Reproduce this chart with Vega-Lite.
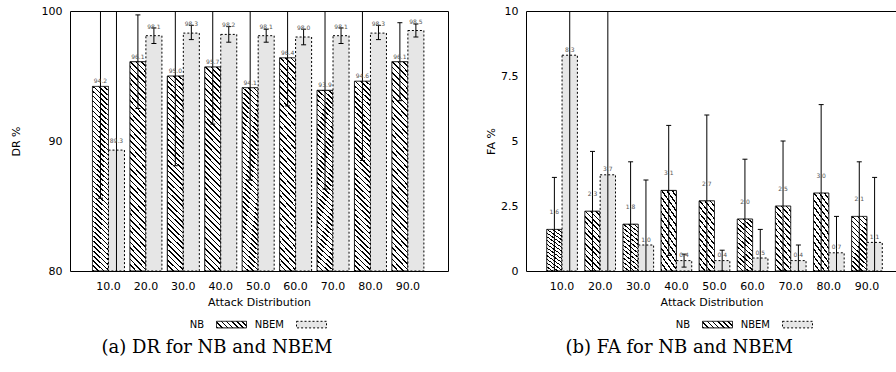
{
"$schema": "https://vega.github.io/schema/vega-lite/v6.json",
"background": "white",
"padding": {"left": 9, "top": 4, "right": 0, "bottom": 0},
"spacing": 36,
"datasets": {
 "dr": [
  {"d":"10.0","s":"NB","v":94.2,"lo":85.6,"hi":102.8},
  {"d":"10.0","s":"NBEM","v":89.3,"lo":77.0,"hi":102.0},
  {"d":"20.0","s":"NB","v":96.1,"lo":92.5,"hi":99.7},
  {"d":"20.0","s":"NBEM","v":98.1,"lo":97.5,"hi":98.7},
  {"d":"30.0","s":"NB","v":95.0,"lo":88.1,"hi":101.9},
  {"d":"30.0","s":"NBEM","v":98.3,"lo":97.8,"hi":98.9},
  {"d":"40.0","s":"NB","v":95.7,"lo":91.3,"hi":100.1},
  {"d":"40.0","s":"NBEM","v":98.2,"lo":97.6,"hi":98.8},
  {"d":"50.0","s":"NB","v":94.1,"lo":87.0,"hi":101.2},
  {"d":"50.0","s":"NBEM","v":98.1,"lo":97.6,"hi":98.6},
  {"d":"60.0","s":"NB","v":96.4,"lo":92.7,"hi":100.1},
  {"d":"60.0","s":"NBEM","v":98.0,"lo":97.4,"hi":98.6},
  {"d":"70.0","s":"NB","v":93.9,"lo":86.3,"hi":101.5},
  {"d":"70.0","s":"NBEM","v":98.1,"lo":97.5,"hi":98.7},
  {"d":"80.0","s":"NB","v":94.6,"lo":88.5,"hi":100.7},
  {"d":"80.0","s":"NBEM","v":98.3,"lo":97.8,"hi":98.9},
  {"d":"90.0","s":"NB","v":96.1,"lo":93.1,"hi":99.1},
  {"d":"90.0","s":"NBEM","v":98.5,"lo":98.0,"hi":99.0}
 ],
 "fa": [
  {"d":"10.0","s":"NB","v":1.6,"lo":-0.4,"hi":3.6},
  {"d":"10.0","s":"NBEM","v":8.3,"lo":-0.5,"hi":17.1},
  {"d":"20.0","s":"NB","v":2.3,"lo":0.0,"hi":4.6},
  {"d":"20.0","s":"NBEM","v":3.7,"lo":-3.3,"hi":10.7},
  {"d":"30.0","s":"NB","v":1.8,"lo":-0.6,"hi":4.2},
  {"d":"30.0","s":"NBEM","v":1.0,"lo":-1.5,"hi":3.5},
  {"d":"40.0","s":"NB","v":3.1,"lo":0.6,"hi":5.6},
  {"d":"40.0","s":"NBEM","v":0.4,"lo":0.15,"hi":0.65},
  {"d":"50.0","s":"NB","v":2.7,"lo":-0.6,"hi":6.0},
  {"d":"50.0","s":"NBEM","v":0.4,"lo":0.0,"hi":0.8},
  {"d":"60.0","s":"NB","v":2.0,"lo":-0.3,"hi":4.3},
  {"d":"60.0","s":"NBEM","v":0.5,"lo":-0.6,"hi":1.6},
  {"d":"70.0","s":"NB","v":2.5,"lo":0.0,"hi":5.0},
  {"d":"70.0","s":"NBEM","v":0.4,"lo":-0.2,"hi":1.0},
  {"d":"80.0","s":"NB","v":3.0,"lo":-0.4,"hi":6.4},
  {"d":"80.0","s":"NBEM","v":0.7,"lo":-0.7,"hi":2.1},
  {"d":"90.0","s":"NB","v":2.1,"lo":0.0,"hi":4.2},
  {"d":"90.0","s":"NBEM","v":1.1,"lo":-1.4,"hi":3.6}
 ]
},
"hconcat": [
 {
  "width": 378, "height": 260,
  "data": {"name": "dr"},
  "title": {"text": "(a) DR for NB and NBEM", "orient": "bottom", "anchor": "middle", "frame": "bounds", "font": "DejaVu Serif", "fontSize": 18, "fontWeight": "normal", "color": "black", "offset": 9, "dx": -12},
  "encoding": {
   "x": {"field": "d", "type": "nominal", "scale": {"domain": ["10.0","20.0","30.0","40.0","50.0","60.0","70.0","80.0","90.0"], "paddingInner": 0, "paddingOuter": 0.55, "align": 0.48}, "axis": {"title": "Attack Distribution", "labelAngle": 0, "labelPadding": 9, "titlePadding": 5}},
   "xOffset": {"field": "s", "type": "nominal", "scale": {"domain": ["NB","NBEM"], "paddingInner": 0, "paddingOuter": 0.169}}
  },
  "layer": [
   {"mark": {"type": "bar", "clip": true, "stroke": "black", "strokeWidth": 1},
    "encoding": {
     "y": {"field": "v", "type": "quantitative", "title": "DR %", "scale": {"domain": [80,100], "nice": false, "zero": false}, "axis": {"values": [80,90,100], "format": "d", "labelPadding": 8, "titlePadding": 20}},
     "y2": {"datum": 80},
     "fill": {"condition": {"test": "datum.s === 'NB'", "value":
       {"gradient": "linear", "x1": 0, "y1": 1, "x2": 0.0859, "y2": -0.0732, "stops": [
        {"offset":0,"color":"#000"},{"offset":0.0075,"color":"#000"},{"offset":0.0075,"color":"#fff"},{"offset":0.025,"color":"#fff"},
        {"offset":0.025,"color":"#000"},{"offset":0.0325,"color":"#000"},{"offset":0.0325,"color":"#fff"},{"offset":0.05,"color":"#fff"},
        {"offset":0.05,"color":"#000"},{"offset":0.0575,"color":"#000"},{"offset":0.0575,"color":"#fff"},{"offset":0.075,"color":"#fff"},
        {"offset":0.075,"color":"#000"},{"offset":0.0825,"color":"#000"},{"offset":0.0825,"color":"#fff"},{"offset":0.1,"color":"#fff"},
        {"offset":0.1,"color":"#000"},{"offset":0.1075,"color":"#000"},{"offset":0.1075,"color":"#fff"},{"offset":0.125,"color":"#fff"},
        {"offset":0.125,"color":"#000"},{"offset":0.1325,"color":"#000"},{"offset":0.1325,"color":"#fff"},{"offset":0.15,"color":"#fff"},
        {"offset":0.15,"color":"#000"},{"offset":0.1575,"color":"#000"},{"offset":0.1575,"color":"#fff"},{"offset":0.175,"color":"#fff"},
        {"offset":0.175,"color":"#000"},{"offset":0.1825,"color":"#000"},{"offset":0.1825,"color":"#fff"},{"offset":0.2,"color":"#fff"},
        {"offset":0.2,"color":"#000"},{"offset":0.2075,"color":"#000"},{"offset":0.2075,"color":"#fff"},{"offset":0.225,"color":"#fff"},
        {"offset":0.225,"color":"#000"},{"offset":0.2325,"color":"#000"},{"offset":0.2325,"color":"#fff"},{"offset":0.25,"color":"#fff"},
        {"offset":0.25,"color":"#000"},{"offset":0.2575,"color":"#000"},{"offset":0.2575,"color":"#fff"},{"offset":0.275,"color":"#fff"},
        {"offset":0.275,"color":"#000"},{"offset":0.2825,"color":"#000"},{"offset":0.2825,"color":"#fff"},{"offset":0.3,"color":"#fff"},
        {"offset":0.3,"color":"#000"},{"offset":0.3075,"color":"#000"},{"offset":0.3075,"color":"#fff"},{"offset":0.325,"color":"#fff"},
        {"offset":0.325,"color":"#000"},{"offset":0.3325,"color":"#000"},{"offset":0.3325,"color":"#fff"},{"offset":0.35,"color":"#fff"},
        {"offset":0.35,"color":"#000"},{"offset":0.3575,"color":"#000"},{"offset":0.3575,"color":"#fff"},{"offset":0.375,"color":"#fff"},
        {"offset":0.375,"color":"#000"},{"offset":0.3825,"color":"#000"},{"offset":0.3825,"color":"#fff"},{"offset":0.4,"color":"#fff"},
        {"offset":0.4,"color":"#000"},{"offset":0.4075,"color":"#000"},{"offset":0.4075,"color":"#fff"},{"offset":0.425,"color":"#fff"},
        {"offset":0.425,"color":"#000"},{"offset":0.4325,"color":"#000"},{"offset":0.4325,"color":"#fff"},{"offset":0.45,"color":"#fff"},
        {"offset":0.45,"color":"#000"},{"offset":0.4575,"color":"#000"},{"offset":0.4575,"color":"#fff"},{"offset":0.475,"color":"#fff"},
        {"offset":0.475,"color":"#000"},{"offset":0.4825,"color":"#000"},{"offset":0.4825,"color":"#fff"},{"offset":0.5,"color":"#fff"},
        {"offset":0.5,"color":"#000"},{"offset":0.5075,"color":"#000"},{"offset":0.5075,"color":"#fff"},{"offset":0.525,"color":"#fff"},
        {"offset":0.525,"color":"#000"},{"offset":0.5325,"color":"#000"},{"offset":0.5325,"color":"#fff"},{"offset":0.55,"color":"#fff"},
        {"offset":0.55,"color":"#000"},{"offset":0.5575,"color":"#000"},{"offset":0.5575,"color":"#fff"},{"offset":0.575,"color":"#fff"},
        {"offset":0.575,"color":"#000"},{"offset":0.5825,"color":"#000"},{"offset":0.5825,"color":"#fff"},{"offset":0.6,"color":"#fff"},
        {"offset":0.6,"color":"#000"},{"offset":0.6075,"color":"#000"},{"offset":0.6075,"color":"#fff"},{"offset":0.625,"color":"#fff"},
        {"offset":0.625,"color":"#000"},{"offset":0.6325,"color":"#000"},{"offset":0.6325,"color":"#fff"},{"offset":0.65,"color":"#fff"},
        {"offset":0.65,"color":"#000"},{"offset":0.6575,"color":"#000"},{"offset":0.6575,"color":"#fff"},{"offset":0.675,"color":"#fff"},
        {"offset":0.675,"color":"#000"},{"offset":0.6825,"color":"#000"},{"offset":0.6825,"color":"#fff"},{"offset":0.7,"color":"#fff"},
        {"offset":0.7,"color":"#000"},{"offset":0.7075,"color":"#000"},{"offset":0.7075,"color":"#fff"},{"offset":0.725,"color":"#fff"},
        {"offset":0.725,"color":"#000"},{"offset":0.7325,"color":"#000"},{"offset":0.7325,"color":"#fff"},{"offset":0.75,"color":"#fff"},
        {"offset":0.75,"color":"#000"},{"offset":0.7575,"color":"#000"},{"offset":0.7575,"color":"#fff"},{"offset":0.775,"color":"#fff"},
        {"offset":0.775,"color":"#000"},{"offset":0.7825,"color":"#000"},{"offset":0.7825,"color":"#fff"},{"offset":0.8,"color":"#fff"},
        {"offset":0.8,"color":"#000"},{"offset":0.8075,"color":"#000"},{"offset":0.8075,"color":"#fff"},{"offset":0.825,"color":"#fff"},
        {"offset":0.825,"color":"#000"},{"offset":0.8325,"color":"#000"},{"offset":0.8325,"color":"#fff"},{"offset":0.85,"color":"#fff"},
        {"offset":0.85,"color":"#000"},{"offset":0.8575,"color":"#000"},{"offset":0.8575,"color":"#fff"},{"offset":0.875,"color":"#fff"},
        {"offset":0.875,"color":"#000"},{"offset":0.8825,"color":"#000"},{"offset":0.8825,"color":"#fff"},{"offset":0.9,"color":"#fff"},
        {"offset":0.9,"color":"#000"},{"offset":0.9075,"color":"#000"},{"offset":0.9075,"color":"#fff"},{"offset":0.925,"color":"#fff"},
        {"offset":0.925,"color":"#000"},{"offset":0.9325,"color":"#000"},{"offset":0.9325,"color":"#fff"},{"offset":0.95,"color":"#fff"},
        {"offset":0.95,"color":"#000"},{"offset":0.9575,"color":"#000"},{"offset":0.9575,"color":"#fff"},{"offset":0.975,"color":"#fff"},
        {"offset":0.975,"color":"#000"},{"offset":0.9825,"color":"#000"},{"offset":0.9825,"color":"#fff"},{"offset":1,"color":"#fff"}
       ]}}, "value": "#e6e6e6"},
     "strokeDash": {"condition": {"test": "datum.s === 'NBEM'", "value": [2,2]}, "value": [1,0]}
    }},
   {"mark": {"type": "square", "opacity": 0, "strokeWidth": 1},
    "encoding": {
     "y": {"field": "v", "type": "quantitative", "title": "DR %"},
     "fill": {"field": "s", "type": "nominal", "scale": {"domain": ["NB","NBEM"], "range": [{"expr": "{gradient: 'linear', x1: 0, y1: 1, x2: 1.1637, y2: 0.744, stops: [{offset: 0, color: '#000'}, {offset: 0.044, color: '#000'}, {offset: 0.044, color: '#fff'}, {offset: 0.1429, color: '#fff'}, {offset: 0.1429, color: '#000'}, {offset: 0.1869, color: '#000'}, {offset: 0.1869, color: '#fff'}, {offset: 0.2857, color: '#fff'}, {offset: 0.2857, color: '#000'}, {offset: 0.3297, color: '#000'}, {offset: 0.3297, color: '#fff'}, {offset: 0.4286, color: '#fff'}, {offset: 0.4286, color: '#000'}, {offset: 0.4726, color: '#000'}, {offset: 0.4726, color: '#fff'}, {offset: 0.5714, color: '#fff'}, {offset: 0.5714, color: '#000'}, {offset: 0.6154, color: '#000'}, {offset: 0.6154, color: '#fff'}, {offset: 0.7143, color: '#fff'}, {offset: 0.7143, color: '#000'}, {offset: 0.7583, color: '#000'}, {offset: 0.7583, color: '#fff'}, {offset: 0.8571, color: '#fff'}, {offset: 0.8571, color: '#000'}, {offset: 0.9011, color: '#000'}, {offset: 0.9011, color: '#fff'}, {offset: 1, color: '#fff'}]}"}, "#e6e6e6"]},
      "legend": {"orient": "none", "legendX": 146, "legendY": 298, "direction": "horizontal", "title": null, "symbolType": "M-1,-0.22H1V0.22H-1Z", "symbolSize": 900, "symbolStrokeWidth": 1, "symbolOpacity": 1, "labelAlign": "right", "labelOffset": -43, "labelFontSize": 10, "labelColor": "black", "columnPadding": 5}},
     "stroke": {"field": "s", "type": "nominal", "scale": {"domain": ["NB","NBEM"], "range": ["black","black"]},
      "legend": {"orient": "none", "legendX": 146, "legendY": 298, "direction": "horizontal", "title": null, "symbolType": "M-1,-0.22H1V0.22H-1Z", "symbolSize": 900, "symbolStrokeWidth": 1, "symbolOpacity": 1, "labelAlign": "right", "labelOffset": -43, "labelFontSize": 10, "labelColor": "black", "columnPadding": 5}},
     "strokeDash": {"field": "s", "type": "nominal", "scale": {"domain": ["NB","NBEM"], "range": [[1,0],[2,2]]},
      "legend": {"orient": "none", "legendX": 146, "legendY": 298, "direction": "horizontal", "title": null, "symbolType": "M-1,-0.22H1V0.22H-1Z", "symbolSize": 900, "symbolStrokeWidth": 1, "symbolOpacity": 1, "labelAlign": "right", "labelOffset": -43, "labelFontSize": 10, "labelColor": "black", "columnPadding": 5}}
    }},
   {"mark": {"type": "rule", "clip": true, "color": "black", "strokeWidth": 1},
    "encoding": {"y": {"field": "lo", "type": "quantitative", "title": "DR %"}, "y2": {"field": "hi"}}},
   {"mark": {"type": "tick", "clip": true, "color": "black", "opacity": 1, "orient": "horizontal", "size": 5, "thickness": 1},
    "encoding": {"y": {"field": "hi", "type": "quantitative", "title": "DR %"}}},
   {"mark": {"type": "tick", "clip": true, "color": "black", "opacity": 1, "orient": "horizontal", "size": 5, "thickness": 1},
    "encoding": {"y": {"field": "lo", "type": "quantitative", "title": "DR %"}}},
   {"transform": [{"filter": "datum.s === 'NB'"}],
    "mark": {"type": "text", "fontSize": 6, "color": "#555", "dy": -5},
    "encoding": {"y": {"field": "v", "type": "quantitative", "title": "DR %"}, "text": {"field": "v", "type": "quantitative", "format": ".1f"}}},
   {"transform": [{"filter": "datum.s === 'NBEM'"}],
    "mark": {"type": "text", "fontSize": 6, "color": "#555", "dy": -9},
    "encoding": {"y": {"field": "v", "type": "quantitative", "title": "DR %"}, "text": {"field": "v", "type": "quantitative", "format": ".1f"}}}
  ]
 },
 {
  "width": 371, "height": 260,
  "data": {"name": "fa"},
  "title": {"text": "(b) FA for NB and NBEM", "orient": "bottom", "anchor": "middle", "frame": "bounds", "font": "DejaVu Serif", "fontSize": 18, "fontWeight": "normal", "color": "black", "offset": 9, "dx": -12},
  "encoding": {
   "x": {"field": "d", "type": "nominal", "scale": {"domain": ["10.0","20.0","30.0","40.0","50.0","60.0","70.0","80.0","90.0"], "paddingInner": 0, "paddingOuter": 0.3675, "align": 0.607}, "axis": {"title": "Attack Distribution", "labelAngle": 0, "labelPadding": 9, "titlePadding": 5}},
   "xOffset": {"field": "s", "type": "nominal", "scale": {"domain": ["NB","NBEM"], "paddingInner": 0, "paddingOuter": 0.242}}
  },
  "layer": [
   {"mark": {"type": "bar", "clip": true, "stroke": "black", "strokeWidth": 1},
    "encoding": {
     "y": {"field": "v", "type": "quantitative", "title": "FA %", "scale": {"domain": [0,10], "nice": false}, "axis": {"values": [0,2.5,5,7.5,10], "labelExpr": "'' + datum.value", "labelPadding": 8, "titlePadding": 4}},
     "y2": {"datum": 0},
     "fill": {"condition": {"test": "datum.s === 'NB'", "value":
       {"gradient": "linear", "x1": 0, "y1": 1, "x2": 0.3154, "y2": -0.1826, "stops": [
        {"offset":0,"color":"#000"},{"offset":0.021,"color":"#000"},{"offset":0.021,"color":"#fff"},{"offset":0.0714,"color":"#fff"},
        {"offset":0.0714,"color":"#000"},{"offset":0.0924,"color":"#000"},{"offset":0.0924,"color":"#fff"},{"offset":0.1429,"color":"#fff"},
        {"offset":0.1429,"color":"#000"},{"offset":0.1639,"color":"#000"},{"offset":0.1639,"color":"#fff"},{"offset":0.2143,"color":"#fff"},
        {"offset":0.2143,"color":"#000"},{"offset":0.2353,"color":"#000"},{"offset":0.2353,"color":"#fff"},{"offset":0.2857,"color":"#fff"},
        {"offset":0.2857,"color":"#000"},{"offset":0.3067,"color":"#000"},{"offset":0.3067,"color":"#fff"},{"offset":0.3571,"color":"#fff"},
        {"offset":0.3571,"color":"#000"},{"offset":0.3781,"color":"#000"},{"offset":0.3781,"color":"#fff"},{"offset":0.4286,"color":"#fff"},
        {"offset":0.4286,"color":"#000"},{"offset":0.4496,"color":"#000"},{"offset":0.4496,"color":"#fff"},{"offset":0.5,"color":"#fff"},
        {"offset":0.5,"color":"#000"},{"offset":0.521,"color":"#000"},{"offset":0.521,"color":"#fff"},{"offset":0.5714,"color":"#fff"},
        {"offset":0.5714,"color":"#000"},{"offset":0.5924,"color":"#000"},{"offset":0.5924,"color":"#fff"},{"offset":0.6429,"color":"#fff"},
        {"offset":0.6429,"color":"#000"},{"offset":0.6639,"color":"#000"},{"offset":0.6639,"color":"#fff"},{"offset":0.7143,"color":"#fff"},
        {"offset":0.7143,"color":"#000"},{"offset":0.7353,"color":"#000"},{"offset":0.7353,"color":"#fff"},{"offset":0.7857,"color":"#fff"},
        {"offset":0.7857,"color":"#000"},{"offset":0.8067,"color":"#000"},{"offset":0.8067,"color":"#fff"},{"offset":0.8571,"color":"#fff"},
        {"offset":0.8571,"color":"#000"},{"offset":0.8781,"color":"#000"},{"offset":0.8781,"color":"#fff"},{"offset":0.9286,"color":"#fff"},
        {"offset":0.9286,"color":"#000"},{"offset":0.9496,"color":"#000"},{"offset":0.9496,"color":"#fff"},{"offset":1,"color":"#fff"}
       ]}}, "value": "#e6e6e6"},
     "strokeDash": {"condition": {"test": "datum.s === 'NBEM'", "value": [2,2]}, "value": [1,0]}
    }},
   {"mark": {"type": "square", "opacity": 0, "strokeWidth": 1},
    "encoding": {
     "y": {"field": "v", "type": "quantitative", "title": "FA %"},
     "fill": {"field": "s", "type": "nominal", "scale": {"domain": ["NB","NBEM"], "range": [{"expr": "{gradient: 'linear', x1: 0, y1: 1, x2: 1.1637, y2: 0.744, stops: [{offset: 0, color: '#000'}, {offset: 0.044, color: '#000'}, {offset: 0.044, color: '#fff'}, {offset: 0.1429, color: '#fff'}, {offset: 0.1429, color: '#000'}, {offset: 0.1869, color: '#000'}, {offset: 0.1869, color: '#fff'}, {offset: 0.2857, color: '#fff'}, {offset: 0.2857, color: '#000'}, {offset: 0.3297, color: '#000'}, {offset: 0.3297, color: '#fff'}, {offset: 0.4286, color: '#fff'}, {offset: 0.4286, color: '#000'}, {offset: 0.4726, color: '#000'}, {offset: 0.4726, color: '#fff'}, {offset: 0.5714, color: '#fff'}, {offset: 0.5714, color: '#000'}, {offset: 0.6154, color: '#000'}, {offset: 0.6154, color: '#fff'}, {offset: 0.7143, color: '#fff'}, {offset: 0.7143, color: '#000'}, {offset: 0.7583, color: '#000'}, {offset: 0.7583, color: '#fff'}, {offset: 0.8571, color: '#fff'}, {offset: 0.8571, color: '#000'}, {offset: 0.9011, color: '#000'}, {offset: 0.9011, color: '#fff'}, {offset: 1, color: '#fff'}]}"}, "#e6e6e6"]},
      "legend": {"orient": "none", "legendX": 176, "legendY": 298, "direction": "horizontal", "title": null, "symbolType": "M-1,-0.22H1V0.22H-1Z", "symbolSize": 900, "symbolStrokeWidth": 1, "symbolOpacity": 1, "labelAlign": "right", "labelOffset": -43, "labelFontSize": 10, "labelColor": "black", "columnPadding": 5}},
     "stroke": {"field": "s", "type": "nominal", "scale": {"domain": ["NB","NBEM"], "range": ["black","black"]},
      "legend": {"orient": "none", "legendX": 176, "legendY": 298, "direction": "horizontal", "title": null, "symbolType": "M-1,-0.22H1V0.22H-1Z", "symbolSize": 900, "symbolStrokeWidth": 1, "symbolOpacity": 1, "labelAlign": "right", "labelOffset": -43, "labelFontSize": 10, "labelColor": "black", "columnPadding": 5}},
     "strokeDash": {"field": "s", "type": "nominal", "scale": {"domain": ["NB","NBEM"], "range": [[1,0],[2,2]]},
      "legend": {"orient": "none", "legendX": 176, "legendY": 298, "direction": "horizontal", "title": null, "symbolType": "M-1,-0.22H1V0.22H-1Z", "symbolSize": 900, "symbolStrokeWidth": 1, "symbolOpacity": 1, "labelAlign": "right", "labelOffset": -43, "labelFontSize": 10, "labelColor": "black", "columnPadding": 5}}
    }},
   {"mark": {"type": "rule", "clip": true, "color": "black", "strokeWidth": 1},
    "encoding": {"y": {"field": "lo", "type": "quantitative", "title": "FA %"}, "y2": {"field": "hi"}}},
   {"mark": {"type": "tick", "clip": true, "color": "black", "opacity": 1, "orient": "horizontal", "size": 5, "thickness": 1},
    "encoding": {"y": {"field": "hi", "type": "quantitative", "title": "FA %"}}},
   {"mark": {"type": "tick", "clip": true, "color": "black", "opacity": 1, "orient": "horizontal", "size": 5, "thickness": 1},
    "encoding": {"y": {"field": "lo", "type": "quantitative", "title": "FA %"}}},
   {"transform": [{"filter": "datum.s === 'NB'"}],
    "mark": {"type": "text", "fontSize": 6, "color": "#555", "dy": -17},
    "encoding": {"y": {"field": "v", "type": "quantitative", "title": "FA %"}, "text": {"field": "v", "type": "quantitative", "format": ".1f"}}},
   {"transform": [{"filter": "datum.s === 'NBEM'"}],
    "mark": {"type": "text", "fontSize": 6, "color": "#555", "dy": -5.5},
    "encoding": {"y": {"field": "v", "type": "quantitative", "title": "FA %"}, "text": {"field": "v", "type": "quantitative", "format": ".1f"}}}
  ]
 }
],
"resolve": {"scale": {"fill": "independent", "stroke": "independent", "strokeDash": "independent", "xOffset": "independent"}, "legend": {"fill": "independent", "stroke": "independent", "strokeDash": "independent"}},
"config": {
 "font": "DejaVu Sans",
 "view": {"stroke": "black", "strokeWidth": 1},
 "axis": {"labelFont": "DejaVu Sans", "labelFontSize": 11, "labelColor": "black", "titleFont": "DejaVu Sans", "titleFontSize": 11, "titleFontWeight": "normal", "titleColor": "black", "domain": false, "grid": false, "ticks": false},
 "legend": {"labelFont": "DejaVu Sans", "labelFontSize": 10, "labelColor": "black"}
}
}
